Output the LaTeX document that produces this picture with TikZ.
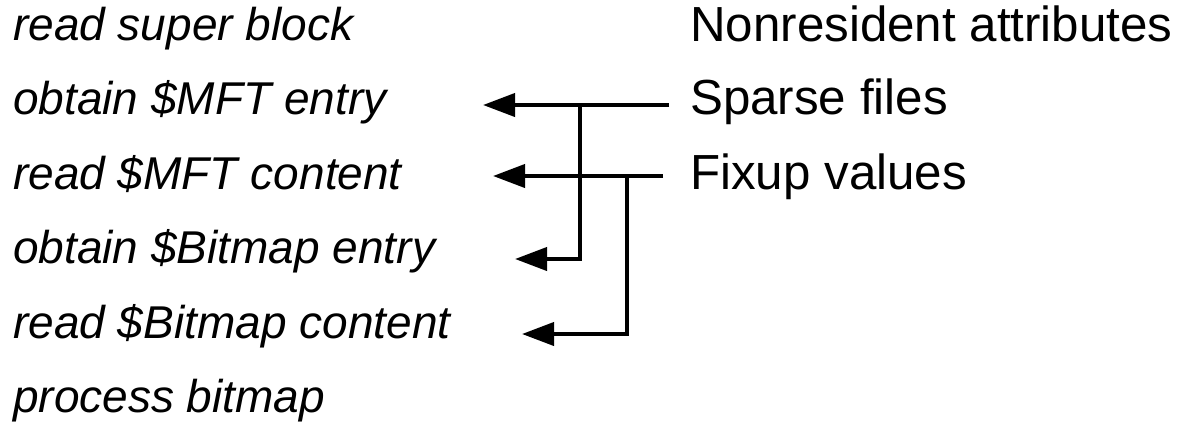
\documentclass[tikz,border=0pt]{standalone}
\usepackage{fontspec}
\setmainfont{Liberation Sans}
\usetikzlibrary{arrows.meta}
\begin{document}
\begin{tikzpicture}[x=1pt,y=-1pt,
  steptext/.style={anchor=base west,inner sep=0pt,font=\fontsize{46}{46}\selectfont\itshape},
  attrtext/.style={anchor=base west,inner sep=0pt,font=\fontsize{49.3}{49.3}\selectfont},
  conn/.style={line width=4pt,-{Triangle[length=32pt,width=23pt]}}]
\useasboundingbox (0,0) rectangle (1182,424);
% left column
\node[steptext] (s1) at (13,40) {read super block};
\node[steptext] (s2) at (13,114.5) {obtain \$MFT entry};
\node[steptext] (s3) at (13,189) {read \$MFT content};
\node[steptext] (s4) at (13,263.5) {obtain \$Bitmap entry};
\node[steptext] (s5) at (13,338) {read \$Bitmap content};
\node[steptext] (s6) at (13,412.5) {process bitmap};
% right column
\node[attrtext] (a1) at (690,41) {Nonresident attributes};
\node[attrtext] (a2) at (690,114.5) {Sparse files};
\node[attrtext] (a3) at (690,189) {Fixup values};
% connector points
\coordinate (p1) at (669,105);
\coordinate (t1) at (483,105);
\coordinate (j1) at (580,105);
\coordinate (t3) at (515,259);
\coordinate (p2) at (663,176);
\coordinate (t2) at (493,176);
\coordinate (j2) at (627,176);
\coordinate (t4) at (522,334);
\draw[conn] (p1) -- (t1);
\draw[conn] (j1) |- (t3);
\draw[conn] (p2) -- (t2);
\draw[conn] (j2) |- (t4);
\end{tikzpicture}
\end{document}
